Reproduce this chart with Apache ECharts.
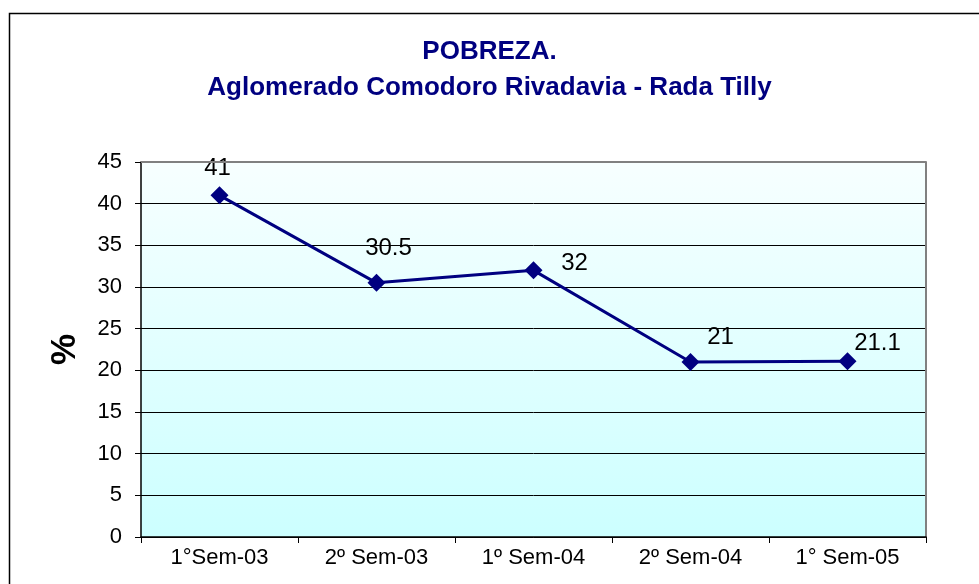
<!DOCTYPE html>
<html>
<head>
<meta charset="utf-8">
<script src="https://cdn.jsdelivr.net/npm/echarts@6/dist/echarts.min.js"></script>
<style>
  html, body { margin: 0; padding: 0; background: #fff; }
  #chart { width: 979px; height: 584px; }
</style>
</head>
<body>
<div id="chart"></div>
<script>
// datos
const categories = ['1°Sem-03', '2º Sem-03', '1º Sem-04', '2º Sem-04', '1° Sem-05'];
const pobreza = [41, 30.5, 32, 21, 21.1];
// posición de cada etiqueta respecto al punto (como en Excel)
const labelOffsets = [[-2, -27], [12, -34], [41, -7], [30, -25], [30, -18]];

const chart = echarts.init(document.getElementById('chart'));
const font = 'Liberation Sans, Arial, sans-serif';

chart.setOption({
    backgroundColor: '#FFFFFF',
    animation: false,
    title: {
        text: 'POBREZA.\nAglomerado Comodoro Rivadavia - Rada Tilly',
        left: 'center',
        top: 29,
        textStyle: {
            fontFamily: font,
            fontSize: 26,
            fontWeight: 'bold',
            color: '#000080',
            lineHeight: 36
        }
    },
    graphic: [{
        type: 'rect',
        shape: { x: 9.5, y: 13.5, width: 1000, height: 600 },
        style: { fill: 'none', stroke: '#000', lineWidth: 1.5 },
        z: -1
    }],
    grid: {
        left: 141,
        top: 162,
        right: 53,
        bottom: 47,
        show: true,
        borderWidth: 0,
        backgroundColor: {
            type: 'linear', x: 0, y: 0, x2: 0, y2: 1,
            colorStops: [
                { offset: 0, color: '#F7FFFF' },
                { offset: 1, color: '#CCFFFF' }
            ]
        }
    },
    xAxis: {
        type: 'category',
        data: categories,
        boundaryGap: true,
        axisLine: { lineStyle: { color: '#000', width: 1.5 } },
        axisTick: { show: true, length: 6, lineStyle: { color: '#000' } },
        axisLabel: { fontFamily: font, fontSize: 22, color: '#000', margin: 10 },
        splitLine: { show: false }
    },
    yAxis: [{
        type: 'value',
        min: 0,
        max: 45,
        interval: 5,
        name: '%',
        nameLocation: 'middle',
        nameGap: 58,
        nameRotate: 90,
        nameTextStyle: { fontFamily: font, fontSize: 35, fontWeight: 'bold', color: '#000' },
        axisLine: { show: true, lineStyle: { color: '#000', width: 1.5 } },
        axisTick: { show: true, length: 6, lineStyle: { color: '#000' } },
        axisLabel: { fontFamily: font, fontSize: 22, color: '#000', margin: 19 },
        splitLine: { show: true, lineStyle: { color: '#000', width: 1 } }
    }, {
        // borde gris derecho del área de trazado
        type: 'value',
        min: 0,
        max: 45,
        position: 'right',
        axisLine: { show: true, lineStyle: { color: '#808080', width: 2 } },
        axisTick: { show: false },
        axisLabel: { show: false },
        splitLine: { show: false }
    }],
    series: [{
        type: 'line',
        data: pobreza.map((v, i) => ({
            value: v,
            label: { offset: labelOffsets[i] }
        })),
        symbol: 'diamond',
        symbolSize: 18,
        lineStyle: { color: '#000080', width: 3 },
        itemStyle: { color: '#000080' },
        label: {
            show: true,
            position: 'inside',
            fontFamily: font,
            fontSize: 24,
            color: '#000'
        },
        markLine: {
            silent: true,
            symbol: 'none',
            label: { show: false },
            lineStyle: { color: '#808080', width: 2, type: 'solid' },
            data: [{ yAxis: 45 }]
        }
    }]
});
</script>
</body>
</html>
